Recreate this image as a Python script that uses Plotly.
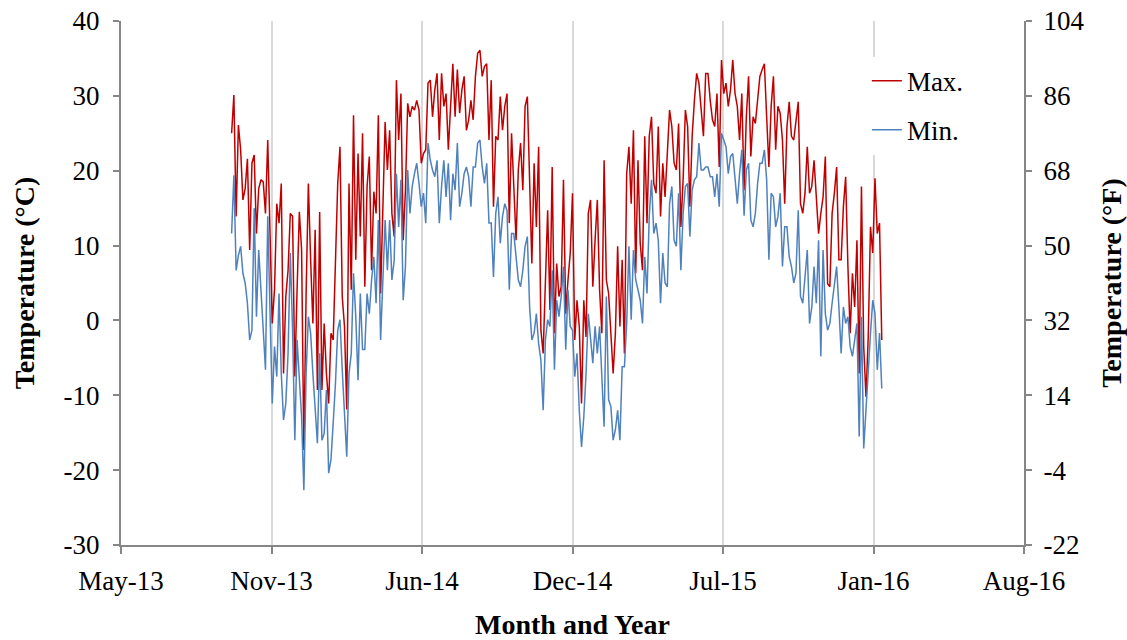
import pandas as pd
import plotly.graph_objects as go

# ---- data (one value every 3 days) ----
start_date = "2013-09-25"
step = "3D"

tmax = [
    # Sep 2013 - Feb 2014
    25.0, 30.1, 13.9, 26.1, 22.8, 16.1, 17.6, 21.6, 9.4, 21.0, 22.1, 11.6, 17.6, 18.8, 18.5, 14.3,
    24.1, 10.7, -0.4, 4.1, 15.6, 13.0, 18.3, -7.1, 3.2, 6.7, 14.3, 13.9, -7.5, 4.1, 14.5, 9.4,
    -17.3, 3.6, 18.3, 8.1, -0.4, 12.1, -9.3, 14.5, -9.3, -0.4, -7.1, -11.1, -1.7, -2.6, 8.1, 18.3, 23.2,
    # Feb 2014 - Jul 2014
    3.2, -0.8, -11.9, 18.3, 4.1, 27.4, 8.1, 22.3, 11.2, 25.0, 4.5, 17.9, 21.9, 6.7, 17.2, 14.3,
    27.4, 3.6, 14.3, 26.5, 20.1, 25.4, 14.3, 11.2, 32.1, 24.1, 30.3, 10.7, 17.4, 29.0, 27.2, 28.6,
    28.1, 29.4, 28.1, 21.0, 22.3, 22.8, 31.7, 32.1, 27.2, 30.8, 33.0, 24.1, 33.0, 28.6, 30.3, 22.8,
    # Jul 2014 - Dec 2014
    28.6, 34.3, 27.2, 33.5, 27.7, 30.8, 32.6, 25.4, 26.8, 29.4, 26.8, 32.6, 35.7, 36.1, 32.6, 33.9,
    34.3, 24.1, 32.1, 15.2, 24.6, 24.1, 29.9, 25.4, 28.6, 30.3, 13.0, 25.0, 17.9, 10.7, 20.1, 23.7,
    17.4, 28.6, 29.9, 18.3, 7.6, 21.0, 12.5, 23.2, -1.3, -4.4, 4.5, 14.7, 1.4, 20.5, -1.7, 7.6, 3.2,
    # Dec 2014 - Apr 2015
    4.5, 18.8, 0.9, 5.4, 9.0, 17.0, -2.6, 2.7, -0.8, -11.1, 2.7, -2.2, 14.3, 16.1, 4.5, 10.7,
    16.1, 4.1, -1.7, 21.4, 5.4, 3.6, -2.6, -7.1, -1.7, 9.9, -0.8, 8.1, -4.4, 19.6, 23.2, 15.6,
    25.4, 6.3, 21.4, 10.3, 6.7, 24.6, 13.0, 24.6, 27.2, 18.3, 17.0, 25.9, 13.9, 21.0, 16.5, 22.8, 28.1,
    # May 2015 - Sep 2015
    25.9, 21.0, 20.1, 26.3, 12.5, 18.8, 28.1, 25.9, 15.2, 24.6, 29.4, 33.0, 31.7, 28.6, 24.6, 33.0,
    33.0, 29.4, 26.8, 25.9, 30.3, 20.5, 34.8, 30.3, 31.7, 28.6, 30.8, 34.8, 30.3, 28.6, 24.1, 30.3,
    17.4, 27.2, 32.6, 21.9, 27.2, 26.3, 29.4, 32.6, 33.5, 34.3, 27.2, 20.5, 28.6, 32.6, 22.8, 28.6,
    # Sep 2015 - Feb 2016
    27.7, 24.1, 15.6, 25.9, 29.2, 24.6, 24.1, 26.3, 29.2, 15.6, 14.3, 17.0, 23.2, 17.0, 17.9, 21.4,
    16.5, 11.6, 14.3, 16.5, 21.9, 4.9, 4.5, 14.3, 17.0, 20.5, 8.1, 8.1, 15.2, 19.2, 7.2, -1.7,
    6.3, 1.8, 10.7, -7.1, 17.9, -3.5, -10.2, -2.2, 12.5, 9.0, 19.0, 11.6, 13.0, -2.6,
]

tmin = [
    # Sep 2013 - Feb 2014
    11.6, 19.4, 6.7, 8.7, 9.9, 6.3, 5.0, 2.3, -2.6, -1.3, 15.0, 0.5, 9.4, 4.1, -1.7, -6.6,
    13.9, 0.5, -11.1, -3.5, -7.5, 3.6, -7.1, -13.3, -11.1, -4.4, 9.0, -1.3, -16.0, -2.6, -7.5, -12.9,
    -22.7, -7.1, 0.5, -1.7, -7.1, -11.5, -16.4, -4.4, -16.0, -15.1, -9.3, -20.4, -18.6, -13.7, -8.4, -1.3, 0.1,
    # Feb 2014 - Jul 2014
    -6.6, -13.3, -18.2, -7.1, -4.4, 6.3, 0.5, -8.0, 3.6, -3.9, -3.9, 3.6, 0.9, 5.4, 8.5, 2.3,
    13.4, -2.6, 5.8, 13.4, 6.7, 13.4, 5.4, 8.0, 19.6, 12.5, 18.8, 2.7, 7.2, 20.1, 14.3, 17.9,
    19.6, 21.0, 18.3, 15.2, 17.0, 13.0, 23.7, 21.4, 20.1, 19.2, 21.4, 13.0, 17.9, 21.4, 16.5, 21.0,
    # Jul 2014 - Dec 2014
    13.4, 19.6, 17.4, 23.7, 15.2, 17.0, 19.6, 20.5, 19.2, 15.2, 20.5, 20.5, 23.7, 24.1, 20.5, 18.3,
    21.0, 13.0, 13.0, 5.8, 14.3, 16.5, 10.3, 13.9, 15.6, 14.7, 4.1, 11.6, 11.6, 8.5, 5.4, 4.5,
    6.7, 9.9, 11.2, 1.8, -2.6, -1.7, 0.9, -3.1, -5.3, -12.0, -2.6, 0.1, -0.8, 6.7, -6.6, 2.7, 0.5,
    # Dec 2014 - Apr 2015
    3.2, 7.2, -3.9, 4.1, -0.8, -1.3, -7.5, -4.4, -12.0, -16.9, -12.9, -7.1, 0.9, -2.2, -5.7, -0.8,
    -4.4, -0.8, -6.6, -14.2, 3.2, -10.6, -11.5, -16.0, -14.6, -12.0, -16.0, -6.2, -6.2, -0.4, 9.9, 0.1,
    9.4, 5.4, 4.1, 2.7, -0.4, 8.5, 3.6, 13.9, 18.8, 11.6, 13.0, 10.7, 2.3, 9.0, 5.0, 4.5, 15.6,
    # May 2015 - Sep 2015
    17.9, 10.7, 9.9, 17.0, 6.7, 14.3, 17.9, 18.3, 11.2, 17.4, 18.8, 19.2, 23.7, 20.1, 20.1, 20.5,
    20.5, 19.2, 19.2, 16.5, 19.6, 15.2, 25.0, 24.1, 23.2, 19.6, 21.9, 22.3, 18.3, 15.6, 19.6, 22.8,
    14.0, 20.1, 21.0, 13.4, 12.5, 14.3, 18.3, 21.0, 21.0, 22.8, 18.8, 8.1, 17.0, 16.5, 12.5, 13.9,
    # Sep 2015 - Feb 2016
    17.0, 7.2, 12.5, 12.5, 8.5, 7.2, 5.0, 6.3, 14.7, 3.2, 2.3, 5.4, 9.4, -0.4, 1.8, 7.2,
    2.3, 10.7, -4.8, 9.4, 0.9, -1.3, -0.4, 2.3, 4.5, 7.2, 1.8, -4.4, 1.8, -0.4, 0.5, -3.5,
    -4.8, -2.6, -0.4, -15.5, 0.5, -17.1, -11.5, -6.6, -1.7, 2.7, 0.9, -6.6, -1.7, -9.1,
]

x_tick_labels = ["May-13", "Nov-13", "Jun-14", "Dec-14", "Jul-15", "Jan-16", "Aug-16"]
x_axis_start = "2013-05-01"
x_tick_step = "200D"
c_ticks = [-30, -20, -10, 0, 10, 20, 30, 40]
c_tick_labels = ["-30", "-20", "-10", "0", "10", "20", "30", "40"]
f_ticks = [-22, -4, 14, 32, 50, 68, 86, 104]
f_tick_labels = ["-22", "-4", "14", "32", "50", "68", "86", "104"]

# ---- build ----
dates = pd.date_range(start_date, periods=len(tmax), freq=step)
tick_dates = pd.date_range(x_axis_start, periods=len(x_tick_labels), freq=x_tick_step)

FONT = "Liberation Serif, Times New Roman, serif"
AXIS_GREY = "#868686"

fig = go.Figure()
fig.add_trace(go.Scatter(x=dates, y=tmax, mode="lines", name="Max.",
                         line=dict(color="#C00000", width=1.5), legendgroup="a"))
fig.add_trace(go.Scatter(x=dates, y=tmin, mode="lines", name="Min.",
                         line=dict(color="#4F81BD", width=1.5), legendgroup="b"))
# empty trace so that the Fahrenheit axis is drawn
fig.add_trace(go.Scatter(x=[None], y=[None], yaxis="y2", showlegend=False,
                         hoverinfo="skip", mode="lines"))

fig.update_layout(
    width=1127, height=640,
    margin=dict(l=121, r=103, t=21, b=95, autoexpand=False),
    paper_bgcolor="white", plot_bgcolor="white",
    font=dict(family=FONT, size=27, color="black"),
    showlegend=True,
    legend=dict(x=0.826, y=0.932, xanchor="left", yanchor="top",
                bgcolor="white", borderwidth=0, tracegroupgap=11,
                font=dict(size=27, family=FONT)),
    xaxis=dict(
        type="date", automargin=False,
        range=[tick_dates[0], tick_dates[-1]],
        tickvals=list(tick_dates), ticktext=x_tick_labels,
        showgrid=True, gridcolor="#D9D9D9", gridwidth=1.5,
        showline=True, linecolor=AXIS_GREY, linewidth=2,
        ticks="outside", ticklen=7, tickwidth=2, tickcolor=AXIS_GREY,
        ticklabelstandoff=4,
        zeroline=False,
        title=dict(text="<b>Month and Year</b>", font=dict(size=28, family=FONT), standoff=30),
    ),
    yaxis=dict(
        automargin=False,
        range=[-30, 40], tickvals=c_ticks, ticktext=c_tick_labels,
        showgrid=False, zeroline=False,
        showline=True, linecolor=AXIS_GREY, linewidth=2,
        ticks="outside", ticklen=6, tickwidth=1.5, tickcolor=AXIS_GREY,
        ticklabelstandoff=8,
        title=dict(text="<b>Temperature (°C)</b>", font=dict(size=28, family=FONT), standoff=21),
    ),
    yaxis2=dict(
        automargin=False,
        range=[-22, 104], tickvals=f_ticks, ticktext=f_tick_labels,
        overlaying="y", side="right", anchor="x",
        showgrid=False, zeroline=False,
        showline=True, linecolor=AXIS_GREY, linewidth=2,
        ticks="outside", ticklen=6, tickwidth=1.5, tickcolor=AXIS_GREY,
        ticklabelstandoff=6,
        title=dict(text="<b>Temperature (°F)</b>", font=dict(size=28, family=FONT), standoff=20),
    ),
)

fig.write_html("out.html")
